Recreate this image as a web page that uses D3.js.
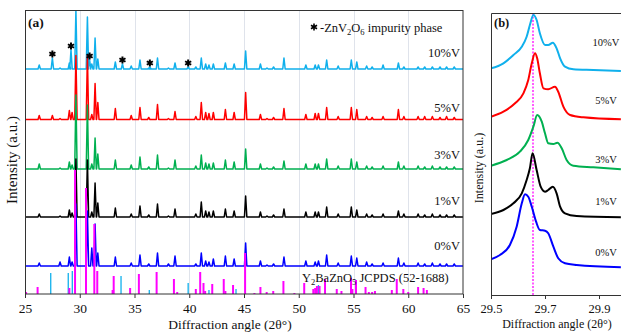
<!DOCTYPE html>
<html><head><meta charset="utf-8">
<script src="https://cdn.jsdelivr.net/npm/d3@7"></script>
<style>
body{margin:0;background:#fff}
svg{display:block}
text{font-family:"Liberation Serif","Times New Roman",serif;fill:#111}
</style>
</head><body>
<svg id="c" width="621" height="332"></svg>
<script>
// ---------- DATA ----------
const seriesNames  = ["0%V","1%V","3%V","5%V","10%V"];
const seriesColors = ["#0000ff","#000000","#00b050","#ff0000","#10b0ec"];
const stackOffsetsA = [28, 77, 125, 174.5, 225];
const xTicksA = [25,30,35,40,45,50,55,60,65];

// main-phase peak positions (2θ) and heights per sample (a.u.)
const peakPos = [26.3,28.2,29.05,29.3,29.65,30.7,31.1,31.4,31.65,33.25,34.7,35.5,36.3,37.1,38.1,38.7,40.6,41.1,41.5,41.8,42.2,43.3,44.1,45.15,46.5,47.1,47.7,48.65,50.65,51.5,51.8,52.55,53.6,54.8,55.3,56.2,56.7,57.7,59.1,59.6,60.9,61.5,62.2,62.9,63.5,64.2];
const peakH0  = [3,4,9,4,62,55,18,42,13,9,3,11,2,13,2,10,2,13,5,4,7,10,7,23,5,1,2,9,5,4,5,11,3,10,8,4,2,3,8,3,3,2,3,2,2,2];
const peakH1  = [3,1,7,4,58,57,5,34,14,9,3,11,2,13,1,8,3,15,6,5,6,8,6,21,5,1,2,8,5,5,5,10,3,10,7,3,2,3,6,3,3,2,3,2,2,2];
const peakH3  = [5,1,7,4,74,64,5,31,15,9,4,12,2,14,1,9,3,14,6,5,6,9,7,20,5,1,2,8,5,5,5,10,3,10,7,3,2,3,7,3,3,2,3,2,2,2];
const peakH5  = [4,1,9,7,64,64,5,36,17,11,4,12,2,15,1,8,3,17,7,6,7,10,7,27,5,1,2,11,5,6,6,12,3,12,10,3,2,3,10,3,3,3,3,2,3,2];
const peakH10 = [4,1,6,0,59,52,5,31,10,7,3,9,1,11,1,6,2,11,5,4,5,6,5,18,5,1,2,11,4,4,4,9,3,9,7,3,2,4,6,2,2,2,2,2,2,2];

// ZnV2O6 impurity peaks
const impurityPos = [27.5,29.2,30.9,33.9,36.4,39.9];
const impurityH0  = [0,0,0,0,0,0];
const impurityH1  = [0,0,0,0,0,0];
const impurityH3  = [0,0,0,0,0,0];
const impurityH5  = [4,0,0,0,0,0];
const impurityH10 = [11,19,9,5,2,2];

// Y2BaZnO5 JCPDS (52-1688) reference sticks
const refPos = [25.1,26.15,29.05,29.57,30.57,31.33,31.6,33.0,33.1,34.6,35.4,37.02,38.6,38.9,40.6,41.0,41.3,41.45,42.1,43.15,43.3,44.0,45.1,45.95,46.5,47.07,47.67,48.6,49.6,50.5,51.33,51.5,51.66,51.9,52.4,53.47,53.9,54.77,54.9,55.23,56.1,56.4,56.7,56.96,58.5,58.95,59.55,60.0,60.9,61.4,61.7];
const refInt = [2,7,6,124,106,70,23,4,18,6,20,22,15,2,5,22,11,3,10,15,3,9,41,1,7,2,3,13,1,11,5,6,8,8,15,5,3,16,5,14,7,2,2,3,4,15,5,2,7,6,4];
// second reference (light blue sticks)
const ref2Pos = [27.35,28.95,29.0,29.32,33.77,36.35,39.9,41.8,44.27,51.8];
const ref2Int = [21,21,6,23,18,4,11,4,5,9];

// panel (b): zoom on the main peak, [2θ, intensity] per sample
const zoom0  = [[29.5,8.7],[29.533,13],[29.57,23],[29.595,41.3],[29.614,64.7],[29.626,73.7],[29.638,71.3],[29.651,61.3],[29.667,46.3],[29.681,38],[29.7,37.3],[29.712,34.7],[29.731,21.3],[29.749,9.7],[29.774,4.7],[29.817,3],[29.981,0.7]];
const zoom1  = [[29.5,4],[29.546,8],[29.583,14.7],[29.614,24.7],[29.632,38],[29.644,49.7],[29.654,64.7],[29.669,48],[29.684,31.3],[29.7,26.3],[29.712,28],[29.729,31.3],[29.743,24.7],[29.756,11.3],[29.774,4.7],[29.817,2],[29.981,0.7]];
const zoom3  = [[29.5,4.3],[29.558,10],[29.607,18.3],[29.638,30],[29.657,43.3],[29.671,55],[29.688,48.3],[29.7,36.7],[29.712,26.7],[29.731,26],[29.746,27.3],[29.762,21.7],[29.78,10],[29.805,4.3],[29.879,2.7],[29.981,0.7]];
const zoom5  = [[29.5,3.3],[29.546,8.3],[29.589,16.7],[29.62,26.7],[29.638,40],[29.651,56.7],[29.663,66.7],[29.671,61.7],[29.681,46.7],[29.694,31.7],[29.712,30.7],[29.737,33.3],[29.749,28.3],[29.768,13.3],[29.793,5],[29.842,2.7],[29.981,0.7]];
const zoom10 = [[29.5,2.7],[29.546,7.7],[29.583,16],[29.614,24.3],[29.632,34.3],[29.644,46],[29.657,56],[29.669,51],[29.681,37.7],[29.7,26],[29.712,26],[29.729,28.3],[29.743,22.7],[29.756,12.7],[29.774,4.3],[29.805,1.7],[29.879,1],[29.981,0]];
const stackOffsetsB = [27, 77, 125, 175, 224];
const xTicksB = [29.5, 29.7, 29.9];
const refLineB = 29.657;

// ---------- DRAW ----------
const svg = d3.select("#c");
const FONT = '"Liberation Serif","Times New Roman",serif';
const defs = svg.append("defs");

// ===== Panel (a) =====
const xA = d3.scaleLinear().domain([25,65]).range([25,463]);
const yA = d3.scaleLinear().domain([0,284]).range([294,10]);
const gA = svg.append("g");
defs.append("clipPath").attr("id","clipA")
  .append("rect").attr("x",25).attr("y",10).attr("width",438).attr("height",284);

gA.append("g").selectAll("line").data(xTicksA.slice(1,-1)).join("line")
  .attr("x1",d=>Math.round(xA(d))+0.5).attr("x2",d=>Math.round(xA(d))+0.5).attr("y1",10).attr("y2",294)
  .attr("stroke","#dfe3eb").attr("stroke-width",1);

const peakH = [peakH0,peakH1,peakH3,peakH5,peakH10];
const impH  = [impurityH0,impurityH1,impurityH3,impurityH5,impurityH10];
const W = 0.11;
function tracePoints(i){
  const list = peakPos.map((p,k)=>[p,peakH[i][k]])
    .concat(impurityPos.map((p,k)=>[p,impH[i][k]]))
    .filter(d=>d[1]>0).sort((a,b)=>a[0]-b[0]);
  const pts=[[25,0]];
  list.forEach(([p,v])=>{pts.push([p-W,0],[p,v],[p+W,0]);});
  pts.push([65,0]);
  return pts;
}
const tracesG = gA.append("g").attr("clip-path","url(#clipA)");
[4,3,2,1,0].forEach(i=>{
  const off = stackOffsetsA[i];
  tracesG.append("path").datum(tracePoints(i))
    .attr("d", d3.line().x(d=>xA(d[0])).y(d=>yA(d[1]+off)))
    .attr("fill","none").attr("stroke",seriesColors[i]).attr("stroke-width",1.5)
    .attr("stroke-linejoin","round");
});

// reference sticks
tracesG.append("g").selectAll("line").data(ref2Pos.map((p,k)=>[p,ref2Int[k]])).join("line")
  .attr("x1",d=>xA(d[0])).attr("x2",d=>xA(d[0])).attr("y1",yA(0)).attr("y2",d=>yA(d[1]))
  .attr("stroke","#10b0ec").attr("stroke-width",1.3);
tracesG.append("g").selectAll("line").data(refPos.map((p,k)=>[p,refInt[k]])).join("line")
  .attr("x1",d=>xA(d[0])).attr("x2",d=>xA(d[0])).attr("y1",yA(0)).attr("y2",d=>yA(d[1]))
  .attr("stroke","#ff00ff").attr("stroke-width",2);

// impurity stars on 10%V
const star = d3.symbol().type(d3.symbolAsterisk).size(34);
gA.append("g").selectAll("path").data(impurityPos.map((p,k)=>[p,impurityH10[k]])).join("path")
  .attr("d",star)
  .attr("transform",d=>`translate(${xA(d[0])},${yA(d[1]+stackOffsetsA[4])-4})`)
  .attr("stroke","#000").attr("stroke-width",2).attr("fill","none");

// frame
gA.append("rect").attr("x",25.5).attr("y",10.5).attr("width",437.5).attr("height",283.5)
  .attr("fill","none").attr("stroke","#333").attr("stroke-width",1);

// x axis
const axA = gA.append("g").attr("transform","translate(0,294)")
  .call(d3.axisBottom(xA).tickValues(xTicksA).tickSize(4).tickSizeOuter(0).tickPadding(5));
axA.select(".domain").remove();
axA.selectAll("line").attr("stroke","#333");
axA.selectAll("text").attr("font-size",13.5).attr("font-family",FONT).attr("fill","#111");

// labels
const labYA = [250,205,159,112,57];
seriesNames.forEach((n,i)=>{
  gA.append("text").attr("x",460).attr("y",labYA[i]).attr("text-anchor","end")
    .attr("font-size",12.5).text(n);
});
gA.append("text").attr("x",28).attr("y",27).attr("font-size",13.5).attr("font-weight","bold").text("(a)");

// legend star + text
gA.append("path").attr("d",star).attr("transform","translate(314,27)")
  .attr("stroke","#000").attr("stroke-width",1.6).attr("fill","none");
const lt = gA.append("text").attr("x",320).attr("y",32).attr("font-size",12.5);
lt.append("tspan").text("-ZnV");
lt.append("tspan").attr("font-size",8.5).attr("dy",3).text("2");
lt.append("tspan").attr("dy",-3).text("O");
lt.append("tspan").attr("font-size",8.5).attr("dy",3).text("6");
lt.append("tspan").attr("dy",-3).text(" impurity phase");

const rt = gA.append("text").attr("x",302).attr("y",282).attr("font-size",12.5);
rt.append("tspan").text("Y");
rt.append("tspan").attr("font-size",8.5).attr("dy",3).text("2");
rt.append("tspan").attr("dy",-3).text("BaZnO");
rt.append("tspan").attr("font-size",8.5).attr("dy",3).text("5");
rt.append("tspan").attr("dy",-3).text(" JCPDS (52-1688)");

gA.append("text").attr("transform","translate(17,160) rotate(-90)").attr("text-anchor","middle")
  .attr("font-size",15).text("Intensity (a.u.)");
gA.append("text").attr("x",230).attr("y",329).attr("text-anchor","middle")
  .attr("font-size",13.5).text("Diffraction angle (2θ°)");

// ===== Panel (b) =====
const xB = d3.scaleLinear().domain([29.5,30.0]).range([491,626]);
const yB = d3.scaleLinear().domain([0,282]).range([295,13]);
const gB = svg.append("g");
defs.append("clipPath").attr("id","clipB")
  .append("rect").attr("x",491).attr("y",13).attr("width",140).attr("height",282);

const xRef = Math.round(xB(refLineB));
gB.append("line").attr("x1",xRef).attr("x2",xRef).attr("y1",13).attr("y2",295)
  .attr("stroke","#ff33ff").attr("stroke-width",1.6).attr("stroke-dasharray","2,1.5");

const zooms = [zoom0,zoom1,zoom3,zoom5,zoom10];
const curvesB = gB.append("g").attr("clip-path","url(#clipB)");
[4,3,2,1,0].forEach(i=>{
  const off = stackOffsetsB[i];
  curvesB.append("path").datum(zooms[i])
    .attr("d", d3.line().curve(d3.curveMonotoneX).x(d=>xB(d[0])).y(d=>yB(d[1]+off)))
    .attr("fill","none").attr("stroke",seriesColors[i]).attr("stroke-width",2);
});

gB.append("path").attr("d","M621,13.5H491.5V295.5H626").attr("fill","none").attr("stroke","#333").attr("stroke-width",1);
const axB = gB.append("g").attr("transform","translate(0,295)")
  .call(d3.axisBottom(xB).tickValues(xTicksB).tickFormat(d3.format(".1f")).tickSize(4).tickSizeOuter(0).tickPadding(5));
axB.select(".domain").remove();
axB.selectAll("line").attr("stroke","#333");
axB.selectAll("text").attr("font-size",12.5).attr("font-family",FONT).attr("fill","#111");

const labYB = [256,205,163,104,46];
seriesNames.forEach((n,i)=>{
  gB.append("text").attr("x",606).attr("y",labYB[i]).attr("text-anchor","middle")
    .attr("font-size",10.5).attr("fill","#333").text(n);
});
gB.append("text").attr("x",494).attr("y",27).attr("font-size",12.5).attr("font-weight","bold").text("(b)");
gB.append("text").attr("transform","translate(483,168) rotate(-90)").attr("text-anchor","middle")
  .attr("font-size",12).text("Intensity (a.u.)");
gB.append("text").attr("x",557).attr("y",328).attr("text-anchor","middle")
  .attr("font-size",12).text("Diffraction angle (2θ°)");
</script>
</body></html>
